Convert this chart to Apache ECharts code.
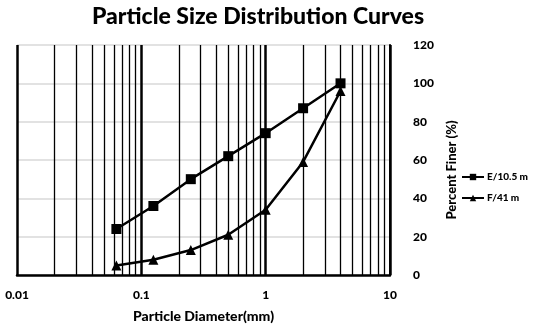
<!DOCTYPE html>
<html><head><meta charset="utf-8">
<script src="https://cdn.jsdelivr.net/npm/echarts@6/dist/echarts.min.js"></script>
<style>html,body{margin:0;padding:0;background:#fff}#c{width:533px;height:328px}</style>
</head><body><div id="c"></div>
<script>
const diameters = [0.063, 0.125, 0.25, 0.5, 1, 2, 4];
const seriesE = [24, 36, 50, 62, 74, 87, 100];
const seriesF = [5, 8, 13, 21, 34, 59, 96];
const seriesNames = ['E/10.5 m', 'F/41 m'];
const minorGrid = [0.02,0.03,0.04,0.05,0.06,0.07,0.08,0.09,0.2,0.3,0.4,0.5,0.6,0.7,0.8,0.9,2,3,4,5,6,7,8,9];
const FONT = 'Lato';
const chart = echarts.init(document.getElementById('c'));
chart.setOption({
  animation: false,
  title: {text: 'Particle Size Distribution Curves', left: 253, textAlign: 'center', top: 0,
    textStyle: {fontFamily: FONT, fontWeight: 900, fontSize: 23, color: '#000'}},
  grid: {left: 17, right: 143, top: 45, bottom: 52},
  legend: {orient: 'vertical', left: 456, top: 167, itemGap: 11, itemWidth: 22, itemHeight: 8,
    textStyle: {fontFamily: FONT, fontWeight: 900, fontSize: 10, color: '#000', padding: [0,0,0,-2]},
    data: seriesNames},
  xAxis: {type: 'log', logBase: 10, min: 0.01, max: 10,
    name: 'Particle Diameter(mm)', nameLocation: 'middle', nameGap: 34,
    nameTextStyle: {fontFamily: FONT, fontWeight: 900, fontSize: 14, color: '#000'},
    axisLine: {lineStyle: {color: '#000', width: 2.5}},
    axisTick: {show: false},
    axisLabel: {fontFamily: FONT, fontWeight: 900, fontSize: 12, color: '#000', margin: 14},
    splitLine: {show: true, lineStyle: {color: '#000', width: 2.5}}},
  yAxis: {type: 'value', position: 'right', min: 0, max: 120, interval: 20,
    name: 'Percent Finer (%)', nameLocation: 'middle', nameGap: 55, nameRotate: 90,
    nameTextStyle: {fontFamily: FONT, fontWeight: 900, fontSize: 13, color: '#000', padding: [0,0,0,-20]},
    axisLine: {show: true, lineStyle: {color: '#000', width: 2}},
    axisTick: {show: false},
    axisLabel: {fontFamily: FONT, fontWeight: 900, fontSize: 12, color: '#000', margin: 23},
    splitLine: {show: true, lineStyle: {color: '#d9d9d9', width: 1.5}}},
  series: [
    {name: 'grid', type: 'line', data: [], silent: true,
      markLine: {silent: true, symbol: 'none', label: {show: false},
        lineStyle: {color: '#000', width: 1.3, type: 'solid'},
        data: minorGrid.map(v => ({xAxis: v}))}},
    {name: seriesNames[0], type: 'line', data: diameters.map((d, i) => [d, seriesE[i]]),
      symbol: 'rect', symbolSize: 10, lineStyle: {color: '#000', width: 2.5},
      itemStyle: {color: '#000'}},
    {name: seriesNames[1], type: 'line', data: diameters.map((d, i) => [d, seriesF[i]]),
      symbol: 'triangle', symbolSize: 10, lineStyle: {color: '#000', width: 2.5},
      itemStyle: {color: '#000'}}
  ]
});
</script></body></html>
